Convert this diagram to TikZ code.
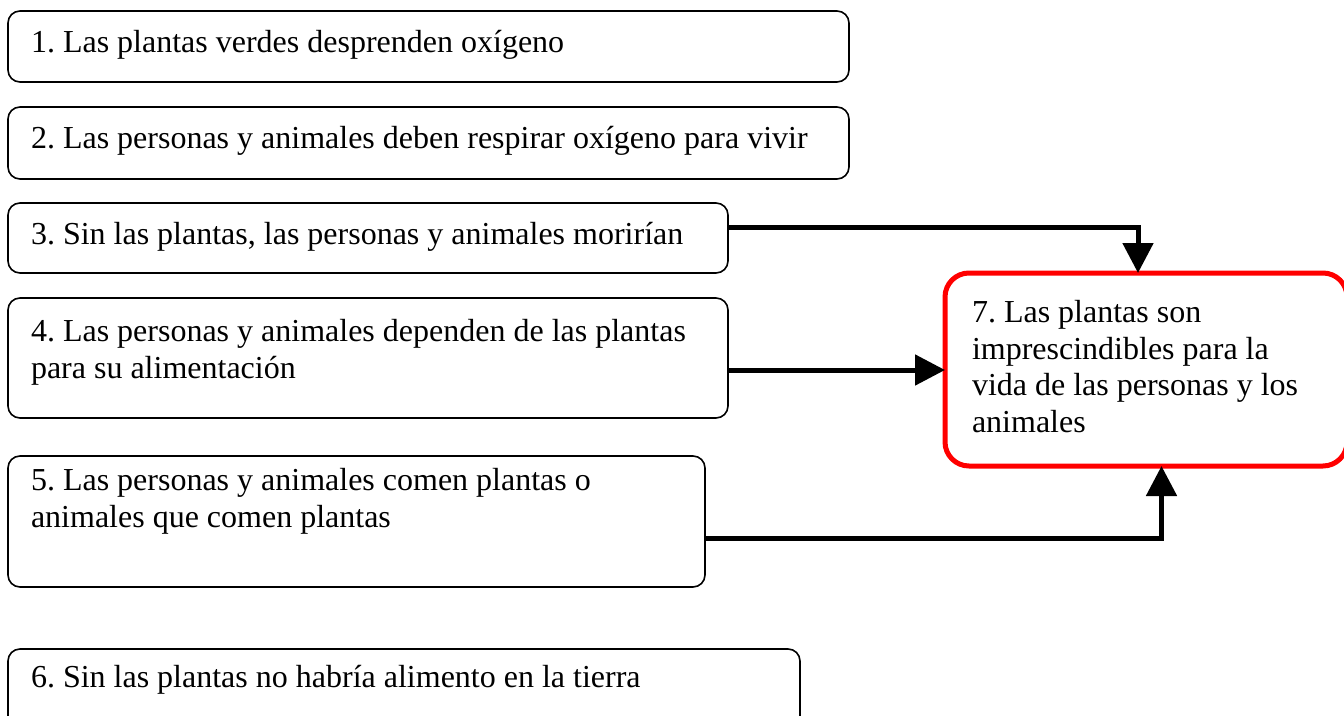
\documentclass[tikz,border=0pt]{standalone}
\usepackage{fontspec}
\setmainfont{Liberation Serif}
\usetikzlibrary{arrows.meta}
\frenchspacing
\begin{document}
\begin{tikzpicture}[x=1pt,y=-1pt,
  box/.style={draw=black,line width=1.6pt,rounded corners=12pt,rectangle,
    anchor=north west,inner sep=0pt,outer sep=0pt},
  redbox/.style={draw=red,line width=5pt,rounded corners=24pt,rectangle,
    anchor=north west,inner sep=0pt,outer sep=0pt},
  txt/.style={anchor=base west,inner sep=0pt,outer sep=0pt,align=left,
    font=\fontsize{32}{36.5}\selectfont\frenchspacing},
  conn/.style={line width=5pt,-{Triangle[length=30pt,width=30pt]}}]
\useasboundingbox (0,0) rectangle (1344,715);
\clip (0,0) rectangle (1344,715);
\node[box,minimum width=841pt,minimum height=71pt] (b1) at (8,11) {};
\node[box,minimum width=841pt,minimum height=72pt] (b2) at (8,107) {};
\node[box,minimum width=720pt,minimum height=70pt] (b3) at (8,203) {};
\node[box,minimum width=720pt,minimum height=120pt] (b4) at (8,298) {};
\node[box,minimum width=697pt,minimum height=131pt] (b5) at (8,456) {};
\node[box,minimum width=792pt,minimum height=90pt] (b6) at (8,649) {};
\node[redbox,minimum width=402pt,minimum height=193pt] (b7) at (945,273) {};
\node[txt] (t1) at (31,52) {1. Las plantas verdes desprenden oxígeno};
\node[txt] (t2) at (31,148) {2. Las personas y animales deben respirar oxígeno para vivir};
\node[txt] (t3) at (31,244) {3. Sin las plantas, las personas y animales morirían};
\node[txt] (t4) at (31,378) {4. Las personas y animales dependen de las plantas\\para su alimentación};
\node[txt] (t5) at (31,527) {5. Las personas y animales comen plantas o\\animales que comen plantas};
\node[txt] (t6) at (31,687) {6. Sin las plantas no habría alimento en la tierra};
\node[txt] (t7) at (972,432) {7. Las plantas son\\imprescindibles para la\\vida de las personas y los\\animales};
\coordinate (s3) at ([yshift=11pt]b3.east);
\coordinate (e3) at ([xshift=-8pt]b7.north);
\coordinate (s4) at ([yshift=-12pt]b4.east);
\coordinate (s5) at ([yshift=-16.5pt]b5.east);
\coordinate (e5) at ([xshift=15.5pt]b7.south);
\draw[conn] (s3) -| (e3);
\draw[conn] (s4) -- (s4 -| b7.west);
\draw[conn] (s5) -| (e5);
\end{tikzpicture}
\end{document}
